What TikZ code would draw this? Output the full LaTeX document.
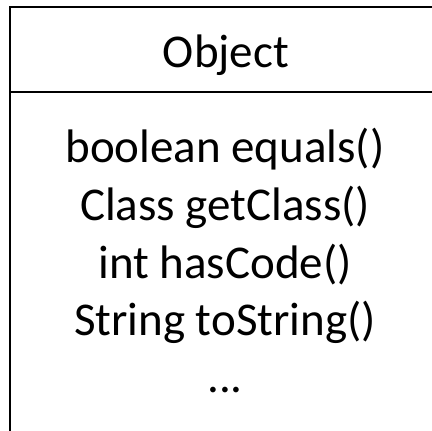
\documentclass[tikz,border=0pt]{standalone}
\usepackage{fontspec}
\setmainfont{Carlito}
\begin{document}
\begin{tikzpicture}[x=1pt,y=-1pt,
  umltext/.style={anchor=base,inner sep=0pt,font=\fontsize{47}{57}\selectfont},
  umlline/.style={line width=2pt,black}]
\useasboundingbox (0,0) rectangle (432,431);
\coordinate (tl) at (10,7);
\coordinate (tr) at (433,7);
\coordinate (ml) at (10,92);
\coordinate (mr) at (433,92);
\coordinate (bl) at (10,432);
\draw[umlline] (tr) -- (tl) -- (bl);
\draw[umlline] (ml) -- (mr);
\node[umltext] (title) at (226,67) {Object};
\node[umltext] (m1) at (225,162) {boolean equals()};
\node[umltext] (m2) at (225,220) {Class getClass()};
\node[umltext] (m3) at (225,278) {int hasCode()};
\node[umltext] (m4) at (225,335) {String toString()};
\node[umltext] (m5) at (225,392) {...};
\end{tikzpicture}
\end{document}
